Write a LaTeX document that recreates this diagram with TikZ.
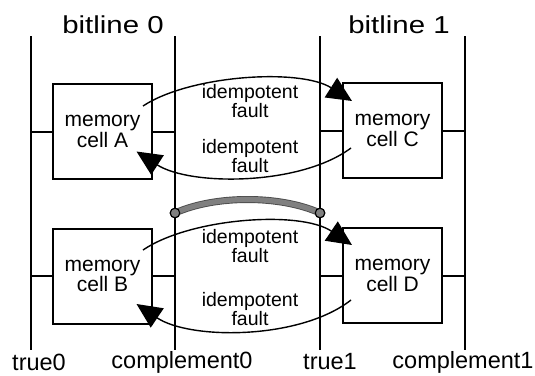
\documentclass[tikz,border=0pt]{standalone}
\usepackage{fontspec}
\setmainfont{Liberation Sans}
\newfontfamily\titlefont[FakeStretch=1.2]{Liberation Sans}
\usetikzlibrary{arrows.meta,calc}

\tikzset{
  wire/.style={line width=2pt},
  cell/.style={draw, line width=2pt, minimum width=99pt, minimum height=95pt,
    align=center, font=\fontsize{21}{17}\selectfont},
  fault/.style={line width=1.4pt, -{Triangle[length=25pt,width=23pt]}},
  faultlabel/.style={align=center, font=\fontsize{19.5}{17.5}\selectfont},
  title/.style={font=\titlefont\fontsize{24.5}{26}\selectfont},
  wirelabel/.style={font=\fontsize{23.5}{26}\selectfont},
  bridge/.style={line width=7pt, draw=black!70},
  bridgefill/.style={line width=5.2pt, draw=black!50},
  dot/.style={circle, draw, line width=1.1pt, fill=black!50, inner sep=0pt, minimum size=9.5pt},
}

\begin{document}
\begin{tikzpicture}[x=1pt, y=-1pt]
  \useasboundingbox (0,0) rectangle (535,375);

  % bit lines (true / complement)
  \coordinate (t0top) at (31,36);   \coordinate (t0bot) at (31,350);
  \coordinate (c0top) at (175,36);  \coordinate (c0bot) at (175,350);
  \coordinate (t1top) at (320,36);  \coordinate (t1bot) at (320,350);
  \coordinate (c1top) at (465,36);  \coordinate (c1bot) at (465,350);
  \draw[wire] (t0top) -- (t0bot);
  \draw[wire] (c0top) -- (c0bot);
  \draw[wire] (t1top) -- (t1bot);
  \draw[wire] (c1top) -- (c1bot);

  % memory cells
  \node[cell] (A) at (102.5,131.5) {memory\\cell A};
  \node[cell] (C) at (392.5,130.5) {memory\\cell C};
  \node[cell] (B) at (102.5,276)   {memory\\cell B};
  \node[cell] (D) at (392.5,275.5) {memory\\cell D};

  % cell connections to the bit lines
  \draw[wire] (A.west) -- (A.west -| t0top);
  \draw[wire] (A.east) -- (A.east -| c0top);
  \draw[wire] (C.west) -- (C.west -| t1top);
  \draw[wire] (C.east) -- (C.east -| c1top);
  \draw[wire] (B.west) -- (B.west -| t0top);
  \draw[wire] (B.east) -- (B.east -| c0top);
  \draw[wire] (D.west) -- (D.west -| t1top);
  \draw[wire] (D.east) -- (D.east -| c1top);

  % labels
  \node[title] (bl0) at (113,25) {bitline 0};
  \node[title] (bl1) at (399,25) {bitline 1};
  \node[wirelabel] (lt0) at (39,362)  {true0};
  \node[wirelabel] (lc0) at (182,362) {complement0};
  \node[wirelabel] (lt1) at (330,362) {true1};
  \node[wirelabel] (lc1) at (463,362) {complement1};

  % bridging defect between complement0 and true1
  \node[dot] (p0) at (175,213) {};
  \node[dot] (p1) at (320,213) {};
  \draw[bridge] (p0.center) .. controls (215,195) and (280,195) .. (p1.center);
  \draw[bridgefill] (p0.center) .. controls (215,195) and (280,195) .. (p1.center);
  \node[dot] at (p0) {};
  \node[dot] at (p1) {};

  % idempotent coupling faults
  \draw[fault] ($(A.center)+(40.5,-25.5)$) .. controls (190,75) and (300,68) .. ($(C.north west)+(10,19)$);
  \draw[fault] ($(C.center)+(-41.5,17.5)$) .. controls (300,186) and (190,186) .. ($(A.center)+(34,20)$);
  \draw[fault] ($(B.center)+(40.5,-26)$) .. controls (190,218) and (300,210) .. ($(D.north west)+(10,18)$);
  \draw[fault] ($(D.center)+(-41.5,24.5)$) .. controls (300,340) and (190,340) .. ($(B.center)+(34,28)$);

  \node[faultlabel] (f1) at (250,101) {idempotent\\fault};
  \node[faultlabel] (f2) at (250,156) {idempotent\\fault};
  \node[faultlabel] (f3) at (250,246) {idempotent\\fault};
  \node[faultlabel] (f4) at (250,309) {idempotent\\fault};
\end{tikzpicture}
\end{document}
